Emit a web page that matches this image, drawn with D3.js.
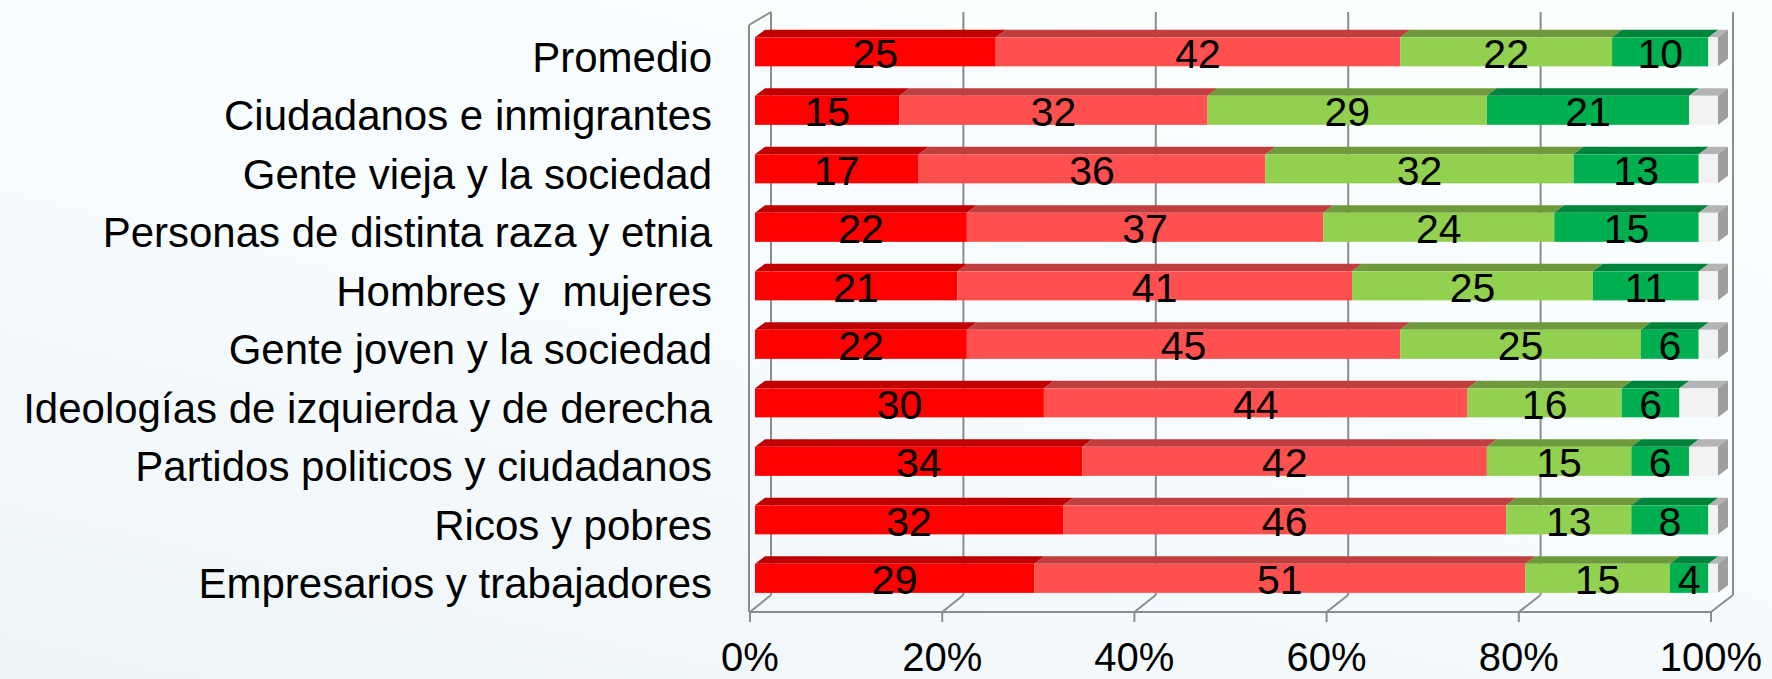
<!DOCTYPE html>
<html>
<head>
<meta charset="utf-8">
<script src="https://cdn.jsdelivr.net/npm/d3@7"></script>
<style>
  html, body { margin: 0; padding: 0; }
  body { width: 1772px; height: 679px; overflow: hidden; }
  text { font-family: "Liberation Sans", Arial, sans-serif; fill: #000; white-space: pre; }
</style>
</head>
<body>
<div id="chart"></div>
<script>
var categories = [
  "Promedio",
  "Ciudadanos e inmigrantes",
  "Gente vieja y la sociedad",
  "Personas de distinta raza y etnia",
  "Hombres y  mujeres",
  "Gente joven y la sociedad",
  "Ideologías de izquierda y de derecha",
  "Partidos politicos y ciudadanos",
  "Ricos y pobres",
  "Empresarios y trabajadores"
];
var muyConflictiva = [25, 15, 17, 22, 21, 22, 30, 34, 32, 29];
var conflictiva    = [42, 32, 36, 37, 41, 45, 44, 42, 46, 51];
var pocoConflictiva = [22, 29, 32, 24, 25, 25, 16, 15, 13, 15];
var nadaConflictiva = [10, 21, 13, 15, 11, 6, 6, 6, 8, 4];
var sinRespuesta   = [1, 3, 2, 2, 2, 2, 4, 3, 1, 1];
var tickValues = [0, 20, 40, 60, 80, 100];

var series = [
  { values: muyConflictiva,  front: "#ff0000", top: "#c00000", label: true },
  { values: conflictiva,     front: "#ff5050", top: "#c03e3e", label: true },
  { values: pocoConflictiva, front: "#92d050", top: "#6f9a3c", label: true },
  { values: nadaConflictiva, front: "#00b050", top: "#00833a", label: true },
  { values: sinRespuesta,    front: "#f2f2f2", top: "#b4b4b4", label: false }
];

var width = 1772, height = 679;
var svg = d3.select("#chart").append("svg")
  .attr("width", width).attr("height", height);

var defs = svg.append("defs");
var grad = defs.append("linearGradient").attr("id", "bg")
  .attr("x1", "0").attr("y1", "1").attr("x2", "0.6").attr("y2", "0");
grad.append("stop").attr("offset", "0").attr("stop-color", "#eef5f8");
grad.append("stop").attr("offset", "0.5").attr("stop-color", "#f6fbfd");
grad.append("stop").attr("offset", "1").attr("stop-color", "#fafeff");
svg.append("rect").attr("width", width).attr("height", height).attr("fill", "url(#bg)");

// front plane (floor/ticks), back plane (gridlines), bars in between
var xFront = d3.scaleLinear().domain([0, 100]).range([750, 1711]);
var xBack = d3.scaleLinear().domain([0, 100]).range([771, 1733]);
var xBar = d3.scaleLinear().domain([0, 100]).range([755, 1718]);
var floorFront = 612, floorBack = 595, topFront = 25, topBack = 12;
var depthX = 10, depthY = -7.5;

var y = d3.scaleBand().domain(categories)
  .range([22.7, 607.5]).paddingInner(0.504).paddingOuter(0.25);

var gridColor = "#8c8c8c";
var grid = svg.append("g").attr("stroke", gridColor).attr("stroke-width", 2).attr("fill", "none");

// back gridlines
grid.selectAll("line.back").data(tickValues).enter().append("line")
  .attr("x1", function (d) { return xBack(d); }).attr("x2", function (d) { return xBack(d); })
  .attr("y1", topBack).attr("y2", floorBack);
// floor slants
grid.selectAll("line.slant").data(tickValues).enter().append("line")
  .attr("x1", function (d) { return xFront(d); }).attr("y1", floorFront)
  .attr("x2", function (d) { return xBack(d); }).attr("y2", floorBack);
// front floor edge and ticks
grid.append("line").attr("x1", xFront(0)).attr("x2", xFront(100))
  .attr("y1", floorFront).attr("y2", floorFront);
grid.selectAll("line.tick").data(tickValues).enter().append("line")
  .attr("x1", function (d) { return xFront(d); }).attr("x2", function (d) { return xFront(d); })
  .attr("y1", floorFront).attr("y2", floorFront + 10);
// left wall
grid.append("line").attr("x1", xFront(0) - 1).attr("x2", xFront(0) - 1)
  .attr("y1", topFront).attr("y2", floorFront);
grid.append("line").attr("x1", xFront(0) - 1).attr("y1", topFront)
  .attr("x2", xBack(0)).attr("y2", topBack);

// stacked segments
var rows = categories.map(function (c, i) {
  var acc = 0;
  return series.map(function (s) {
    var seg = { cat: c, v0: acc, v1: acc + s.values[i], value: s.values[i], s: s };
    acc += s.values[i];
    return seg;
  });
});

var bars = svg.append("g");
rows.forEach(function (segs) {
  var g = bars.append("g");
  var y0 = y(segs[0].cat), h = y.bandwidth();
  // top faces
  g.selectAll("path.top").data(segs).enter().append("path")
    .attr("fill", function (d) { return d.s.top; })
    .attr("d", function (d) {
      var a = xBar(d.v0), b = xBar(d.v1);
      return "M" + a + "," + y0 + "L" + b + "," + y0 +
        "L" + (b + depthX) + "," + (y0 + depthY) + "L" + (a + depthX) + "," + (y0 + depthY) + "Z";
    });
  // front faces
  g.selectAll("rect").data(segs).enter().append("rect")
    .attr("x", function (d) { return xBar(d.v0); })
    .attr("width", function (d) { return xBar(d.v1) - xBar(d.v0); })
    .attr("y", y0).attr("height", h)
    .attr("fill", function (d) { return d.s.front; });
  // right side face
  var last = segs[segs.length - 1];
  var r = xBar(last.v1);
  g.append("path").attr("fill", "#9e9e9e")
    .attr("d", "M" + r + "," + y0 + "L" + (r + depthX) + "," + (y0 + depthY) +
      "L" + (r + depthX) + "," + (y0 + depthY + h) + "L" + r + "," + (y0 + h) + "Z");
  // value labels
  g.selectAll("text").data(segs.filter(function (d) { return d.s.label; })).enter().append("text")
    .attr("x", function (d) { return xBar((d.v0 + d.v1) / 2); })
    .attr("y", y0 + h / 2 + 16)
    .attr("text-anchor", "middle")
    .style("font-size", "41px")
    .text(function (d) { return d.value; });
});

// category labels
svg.append("g").selectAll("text").data(categories).enter().append("text")
  .attr("x", 712)
  .attr("y", function (d) { return y(d) + y.bandwidth() / 2 + 20; })
  .attr("text-anchor", "end")
  .attr("xml:space", "preserve")
  .style("font-size", "42px")
  .text(function (d) { return d; });

// axis labels
svg.append("g").selectAll("text").data(tickValues).enter().append("text")
  .attr("x", function (d) { return xFront(d); })
  .attr("y", 671)
  .attr("text-anchor", "middle")
  .style("font-size", "40px")
  .text(function (d) { return d + "%"; });
</script>
</body>
</html>
